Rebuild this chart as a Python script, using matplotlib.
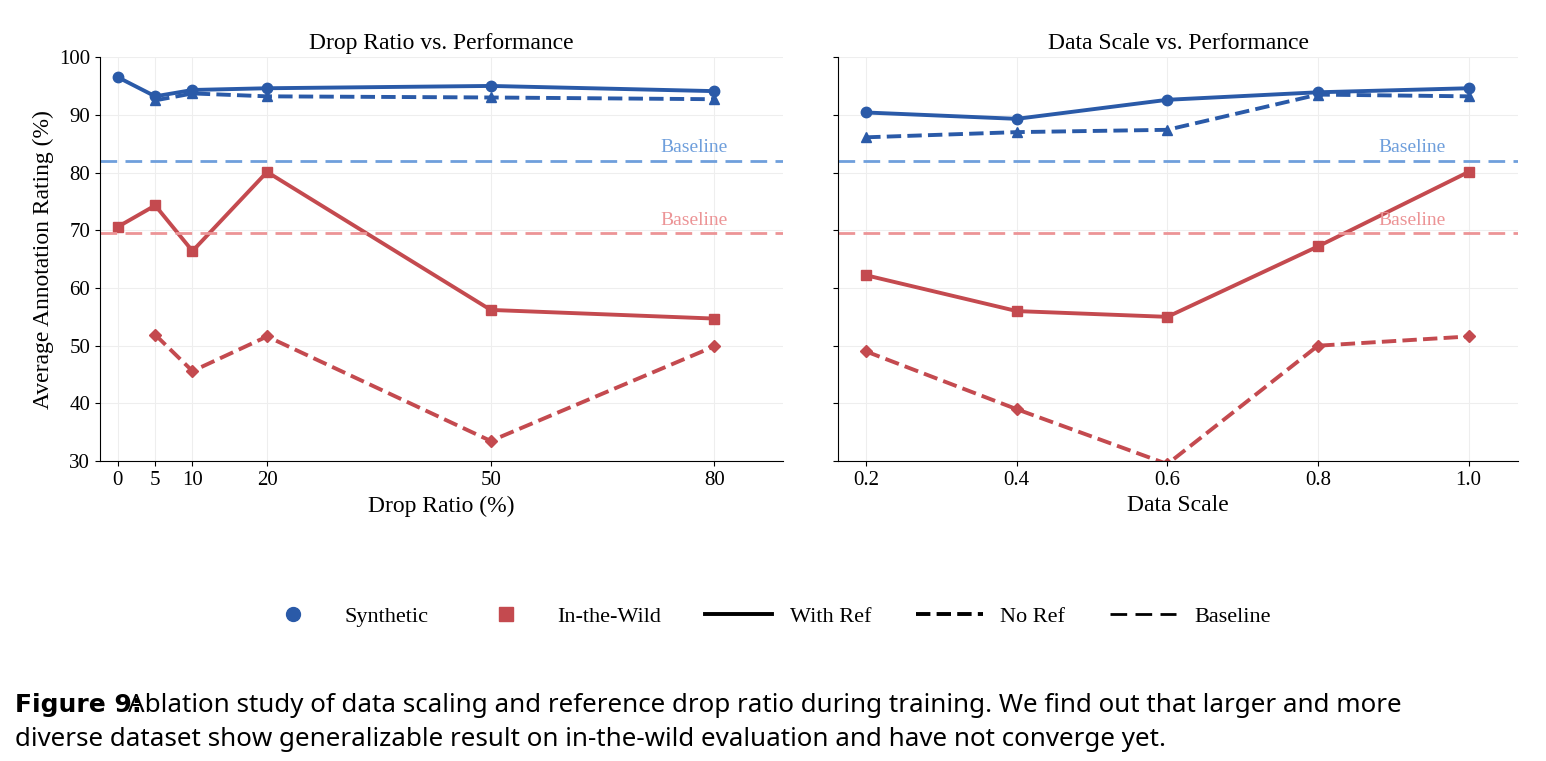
import matplotlib.pyplot as plt
from matplotlib.lines import Line2D

plt.rcParams['font.family'] = ['Liberation Serif', 'DejaVu Serif']

BLUE = '#2a5aa8'
RED = '#c44a4f'
LBLUE = '#6f9fdc'
LRED = '#ec9496'

drop_x = [0, 5, 10, 20, 50, 80]
drop_syn_ref = [96.5, 93.2, 94.3, 94.6, 95.0, 94.1]
drop_syn_noref_x = [5, 10, 20, 50, 80]
drop_syn_noref = [92.5, 93.7, 93.2, 93.0, 92.7]
drop_wild_ref = [70.6, 74.3, 66.4, 80.1, 56.2, 54.7]
drop_wild_noref_x = [5, 10, 20, 50, 80]
drop_wild_noref = [51.9, 45.6, 51.6, 33.5, 49.9]

scale_x = [0.2, 0.4, 0.6, 0.8, 1.0]
scale_syn_ref = [90.4, 89.3, 92.6, 93.9, 94.6]
scale_syn_noref = [86.1, 87.0, 87.4, 93.5, 93.2]
scale_wild_ref = [62.2, 56.0, 55.0, 67.2, 80.1]
scale_wild_noref = [49.0, 39.0, 29.5, 50.0, 51.6]

base_syn = 82.0
base_wild = 69.5

fig = plt.figure(figsize=(15.46, 7.61), dpi=100)
ax1 = fig.add_axes([0.0647, 0.394, 0.4418, 0.531])
ax2 = fig.add_axes([0.542, 0.394, 0.440, 0.531])

kw = dict(linewidth=2.8, markersize=7.5)
ax1.plot(drop_x, drop_syn_ref, '-o', color=BLUE, **kw)
ax1.plot(drop_syn_noref_x, drop_syn_noref, '--^', color=BLUE, **kw)
ax1.plot(drop_x, drop_wild_ref, '-s', color=RED, **kw)
ax1.plot(drop_wild_noref_x, drop_wild_noref, '--D', color=RED, linewidth=2.8, markersize=6.5)

ax2.plot(scale_x, scale_syn_ref, '-o', color=BLUE, **kw)
ax2.plot(scale_x, scale_syn_noref, '--^', color=BLUE, **kw)
ax2.plot(scale_x, scale_wild_ref, '-s', color=RED, **kw)
ax2.plot(scale_x, scale_wild_noref, '--D', color=RED, linewidth=2.8, markersize=6.5)

for ax, tx in [(ax1, 0.82), (ax2, 0.795)]:
    ax.axhline(base_syn, color=LBLUE, linestyle=(0, (6, 3)), linewidth=2)
    ax.axhline(base_wild, color=LRED, linestyle=(0, (6, 3)), linewidth=2)
    ax.text(tx, base_syn + 0.8, 'Baseline', color=LBLUE, fontsize=14,
            transform=ax.get_yaxis_transform(), va='bottom')
    ax.text(tx, base_wild + 0.8, 'Baseline', color=LRED, fontsize=14,
            transform=ax.get_yaxis_transform(), va='bottom')
    ax.set_ylim(30, 100)
    ax.set_yticks(range(30, 101, 10))
    ax.grid(True, color='#eeeeee', linewidth=0.8)
    ax.set_axisbelow(True)
    for s in ['top', 'right']:
        ax.spines[s].set_visible(False)
    ax.tick_params(labelsize=15)

ax1.set_xlim(-2.4, 89.2)
ax1.set_xticks(drop_x)
ax1.set_xlabel('Drop Ratio (%)', fontsize=17)
ax1.set_ylabel('Average Annotation Rating (%)', fontsize=17)
ax1.set_title('Drop Ratio vs. Performance', fontsize=17)

ax2.set_xlim(0.1625, 1.0659)
ax2.set_xticks(scale_x)
ax2.set_xticklabels(['0.2', '0.4', '0.6', '0.8', '1.0'])
ax2.tick_params(labelleft=False)
ax2.set_xlabel('Data Scale', fontsize=17)
ax2.set_title('Data Scale vs. Performance', fontsize=17)

handles = [
    Line2D([], [], marker='o', color=BLUE, linestyle='none', markersize=10),
    Line2D([], [], marker='s', color=RED, linestyle='none', markersize=10),
    Line2D([], [], color='black', linewidth=2.8),
    Line2D([], [], color='black', linewidth=2.8, linestyle='--'),
    Line2D([], [], color='black', linewidth=2, linestyle=(0, (6, 3))),
]
fig.legend(handles, ['Synthetic', 'In-the-Wild', 'With Ref', 'No Ref', 'Baseline'],
           loc='center', bbox_to_anchor=(0.495, 0.19), ncol=5, frameon=False,
           fontsize=16, handlelength=3, columnspacing=2)

fig.text(0.01, 0.065, 'Figure 9:', fontsize=18, fontweight='bold', family='DejaVu Sans')
fig.text(0.083, 0.065, 'Ablation study of data scaling and reference drop ratio during training. '
         'We find out that larger and more', fontsize=18.7, family='Noto Sans')
fig.text(0.01, 0.02, 'diverse dataset show generalizable result on in-the-wild evaluation '
         'and have not converge yet.', fontsize=18.7, family='Noto Sans')

fig.savefig('out.png', dpi=100)
